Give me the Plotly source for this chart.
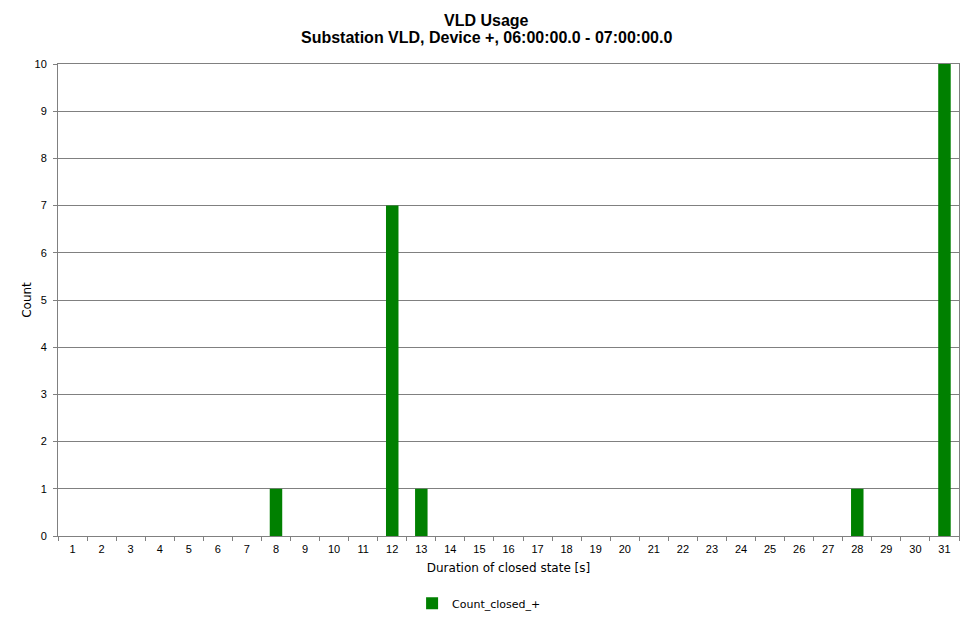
import plotly.graph_objects as go

categories = [str(i) for i in range(1, 32)]
counts = [0, 0, 0, 0, 0, 0, 0, 1, 0, 0, 0, 7, 1, 0, 0, 0, 0, 0, 0, 0,
          0, 0, 0, 0, 0, 0, 0, 1, 0, 0, 10]
y_ticks = list(range(0, 11))
title_lines = ["VLD Usage", "Substation VLD, Device +, 06:00:00.0 - 07:00:00.0"]

fig = go.Figure()
fig.add_trace(go.Bar(
    x=categories, y=counts, name="Count_closed_+",
    marker=dict(color="#008000", line=dict(width=0)),
    width=0.43, showlegend=True,
))

title_font = dict(family="Liberation Sans Narrow, Liberation Sans, Arial", size=16, color="black")
for txt, yy in zip(title_lines, [1.0932, 1.0551]):
    fig.add_annotation(text="<b>" + txt + "</b>", x=0.476, xref="paper", y=yy, yref="paper",
                       xanchor="center", yanchor="middle", showarrow=False, font=title_font)

label_font = "DejaVu Sans, Verdana, sans-serif"
fig.update_layout(
    width=959, height=609,
    paper_bgcolor="white", plot_bgcolor="white",
    margin=dict(l=50, r=8, t=56, b=81, autoexpand=False),
    font=dict(family="Liberation Sans, Arial", size=11, color="black"),
    showlegend=True,
    legend=dict(orientation="h", x=0.393, xanchor="left", y=-0.112, yanchor="top",
                font=dict(size=11, family=label_font), itemwidth=30),
)
fig.update_xaxes(
    type="category", showgrid=False, showline=True, linecolor="#808080", linewidth=1,
    mirror=True, ticks="outside", ticklen=4, tickcolor="#808080",
    tickson="boundaries", ticklabelstandoff=3,
    tickfont=dict(size=11, color="black"),
    title=dict(text="Duration of closed state [s]", font=dict(size=12, family=label_font), standoff=9),
)
fig.update_yaxes(
    range=[0, 10], tickvals=y_ticks, showgrid=True, gridcolor="#808080", gridwidth=1,
    showline=True, linecolor="#808080", linewidth=1, mirror=True,
    ticks="outside", ticklen=4, tickcolor="#808080", ticklabelstandoff=4,
    tickfont=dict(size=11, color="black"),
    title=dict(text="Count", font=dict(size=12, family=label_font), standoff=0),
    zeroline=False,
)

fig.write_html("out.html")
